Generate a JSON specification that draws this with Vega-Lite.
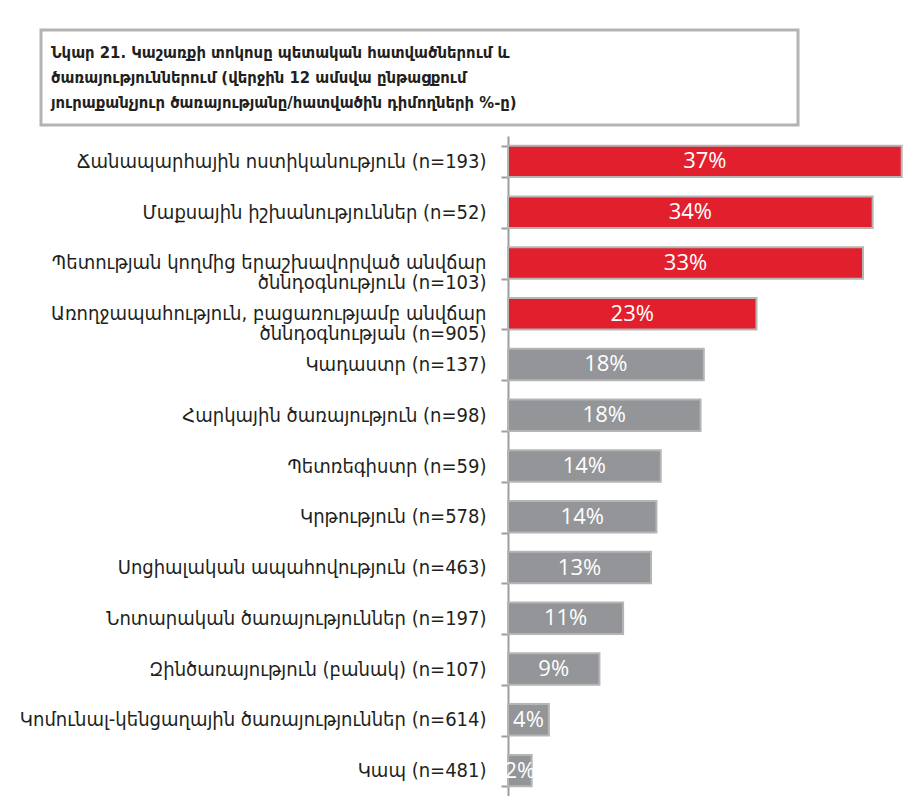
{
  "$schema": "https://vega.github.io/schema/vega-lite/v6.json",
  "background": "white",
  "padding": {"left": 19, "top": 28, "right": 0, "bottom": 0},
  "config": {"view": {"stroke": null}, "font": "DejaVu Sans Condensed"},
  "spacing": -1,
  "vconcat": [
    {
      "width": 757,
      "height": 95,
      "view": {"stroke": "#b3b3b3", "strokeWidth": 3},
      "data": {"values": [
        {"line": 1, "text": "Նկար 21. Կաշառքի տոկոսը պետական հատվածներում և"},
        {"line": 2, "text": "ծառայություններում  (վերջին 12 ամսվա ընթացքում"},
        {"line": 3, "text": "յուրաքանչյուր ծառայությանը/հատվածին դիմողների  %-ը)"}
      ]},
      "mark": {"type": "text", "align": "left", "baseline": "middle", "font": "DejaVu Sans Condensed", "fontWeight": "bold", "fontSize": 16.5, "color": "#231f20", "dx": 10},
      "encoding": {
        "y": {"field": "line", "type": "ordinal", "scale": {"type": "point", "padding": 0.9}, "axis": null},
        "x": {"datum": 0, "type": "quantitative", "scale": {"domain": [0, 1]}, "axis": null},
        "text": {"field": "text"}
      }
    },
    {
      "width": 865,
      "height": 660,
      "data": {"values": [
        {"category": "Ճանապարհային ոստիկանություն  (n=193)", "value": 36.6, "label": "37%", "group": "Top"},
        {"category": "Մաքսային իշխանություններ (n=52)", "value": 33.9, "label": "34%", "group": "Top"},
        {"category": "Պետության կողմից երաշխավորված անվճար|ծննդօգնություն  (n=103)", "value": 33.0, "label": "33%", "group": "Top"},
        {"category": "Առողջապահություն, բացառությամբ անվճար|ծննդօգնության   (n=905)", "value": 23.1, "label": "23%", "group": "Top"},
        {"category": "Կադաստր (n=137)", "value": 18.2, "label": "18%", "group": "Other"},
        {"category": "Հարկային ծառայություն (n=98)", "value": 17.9, "label": "18%", "group": "Other"},
        {"category": "Պետռեգիստր (n=59)", "value": 14.2, "label": "14%", "group": "Other"},
        {"category": "Կրթություն (n=578)", "value": 13.8, "label": "14%", "group": "Other"},
        {"category": "Սոցիալական ապահովություն (n=463)", "value": 13.3, "label": "13%", "group": "Other"},
        {"category": "Նոտարական ծառայություններ (n=197)", "value": 10.7, "label": "11%", "group": "Other"},
        {"category": "Զինծառայություն (բանակ) (n=107)", "value": 8.5, "label": "9%", "group": "Other"},
        {"category": "Կոմունալ-կենցաղային ծառայություններ (n=614)", "value": 3.8, "label": "4%", "group": "Other"},
        {"category": "Կապ (n=481)", "value": 2.2, "label": "2%", "group": "Other"}
      ]},
      "encoding": {
        "y": {"field": "category", "type": "nominal", "sort": null,
              "scale": {"paddingInner": 0.38, "paddingOuter": 0.19},
              "axis": {"title": null, "offset": -467, "domainColor": "#9d9d9d", "domainWidth": 2, "tickColor": "#9d9d9d", "tickWidth": 2, "tickSize": 7, "tickBand": "extent",
                       "labelFont": "DejaVu Sans Condensed", "labelFontSize": 20, "labelColor": "#231f20", "labelPadding": 15, "labelLimit": 600,
                       "labelExpr": "split(datum.label, '|')", "labelLineHeight": 20}}
      },
      "layer": [
        {
          "mark": {"type": "bar", "stroke": "#b5b5b5", "strokeWidth": 2},
          "encoding": {
            "x": {"field": "value", "type": "quantitative", "scale": {"domain": [0, 37], "nice": false, "range": [467, 865]}, "axis": null},
            "color": {"field": "group", "type": "nominal", "scale": {"domain": ["Top", "Other"], "range": ["#e21f2d", "#939598"]}, "legend": null}
          }
        },
        {
          "mark": {"type": "text", "color": "white", "font": "Open Sans", "fontSize": 22, "baseline": "middle"},
          "encoding": {
            "x": {"field": "value", "type": "quantitative", "stack": "zero", "bandPosition": 0.5, "axis": null},
            "text": {"field": "label"}
          }
        }
      ]
    }
  ]
}
